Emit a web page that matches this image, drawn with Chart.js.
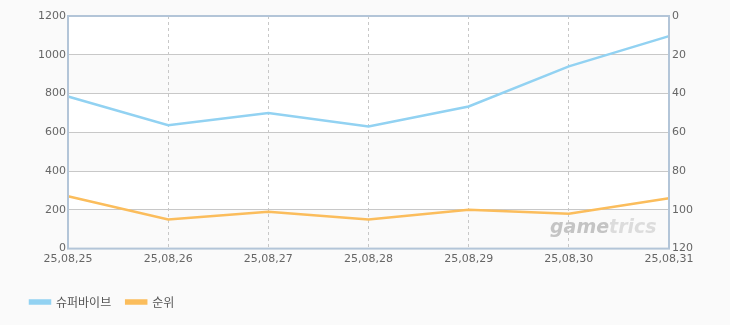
<!DOCTYPE html>
<html>
<head>
<meta charset="utf-8">
<script src="https://cdn.jsdelivr.net/npm/chart.js@4/dist/chart.umd.min.js"></script>
<style>
	html, body { margin: 0; padding: 0; background: #fafafa; }
	#wrap { width: 730px; height: 325px; }
</style>
</head>
<body>
<div id="wrap"><canvas id="trendChart" width="730" height="325"></canvas></div>
<script>
'use strict'

// values
const dates = ['25,08,25', '25,08,26', '25,08,27', '25,08,28', '25,08,29', '25,08,30', '25,08,31'];
const superviveValues = [785, 637, 699, 630, 733, 940, 1096];
const rankValues = [93, 105, 101, 105, 100, 102, 94];
const seriesNames = ['슈퍼바이브', '순위'];
const bandRanges = [[800, 1000], [400, 600], [0, 200]];

let plotDecor = {
	id: 'plotDecor',
	beforeDraw: (chart) => {
		let ctx = chart.ctx;
		let area = chart.chartArea;
		let y = chart.scales.y;
		ctx.save();
		ctx.fillStyle = '#fafafa';
		ctx.fillRect(0, 0, chart.width, chart.height);
		ctx.fillStyle = '#ffffff';
		ctx.fillRect(area.left, area.top, area.right - area.left, area.bottom - area.top);
		ctx.fillStyle = '#fafafa';
		bandRanges.forEach((r) => {
			let top = y.getPixelForValue(r[1]);
			let bottom = y.getPixelForValue(r[0]);
			ctx.fillRect(area.left, top, area.right - area.left, bottom - top);
		});
		ctx.restore();
	},
	beforeDatasetsDraw: (chart) => {
		let ctx = chart.ctx;
		let area = chart.chartArea;
		ctx.save();
		ctx.font = 'italic bold 19px "DejaVu Sans", sans-serif';
		ctx.textBaseline = 'alphabetic';
		ctx.fillStyle = '#c4c4c4';
		let x = area.right - 119;
		ctx.fillText('game', x, area.bottom - 16);
		let w = ctx.measureText('game').width;
		ctx.fillStyle = '#dcdcdc';
		ctx.fillText('trics', x + w, area.bottom - 16);
		ctx.restore();
	},
	afterDraw: (chart) => {
		let ctx = chart.ctx;
		let area = chart.chartArea;
		ctx.save();
		ctx.strokeStyle = '#b3c5d8';
		ctx.lineWidth = 2;
		ctx.strokeRect(area.left, area.top, area.right - area.left, area.bottom - area.top);
		ctx.restore();
	}
};

let fixWidth = (w) => (scale) => { scale.width = w; };
let plainTick = (value) => String(value);

let chart = new Chart(document.getElementById('trendChart'), {
	type: 'line',
	data: {
		labels: dates,
		datasets: [{
			label: seriesNames[0],
			data: superviveValues,
			borderColor: '#92d2f2',
			backgroundColor: '#92d2f2',
			borderWidth: 2.5,
			pointRadius: 0,
			tension: 0,
			yAxisID: 'y'
		}, {
			label: seriesNames[1],
			data: rankValues,
			borderColor: '#fbbd5c',
			backgroundColor: '#fbbd5c',
			borderWidth: 2.5,
			pointRadius: 0,
			tension: 0,
			yAxisID: 'y1'
		}]
	},
	options: {
		responsive: false,
		animation: false,
		layout: { padding: { top: 16, left: 15, right: 0, bottom: 7 } },
		plugins: {
			tooltip: { enabled: false },
			legend: {
				position: 'bottom',
				align: 'start',
				// empty title only pushes the items down
				title: { display: true, text: '', font: { size: 1 }, padding: { top: 10, bottom: 0 } },
				labels: {
					boxWidth: 20,
					boxHeight: 3,
					padding: 15,
					color: '#555',
					font: { family: '"Noto Sans CJK KR", sans-serif', size: 12 }
				}
			}
		},
		scales: {
			x: {
				offset: false,
				grid: { color: '#c8c8c8', drawTicks: false },
				border: { display: false, dash: [3, 3] },
				ticks: {
					color: '#666',
					padding: 4,
					maxRotation: 0,
					font: { family: '"DejaVu Sans", sans-serif', size: 11 }
				}
			},
			y: {
				position: 'left',
				min: 0,
				max: 1200,
				afterFit: fixWidth(53),
				grid: { color: '#c8c8c8', drawTicks: false },
				border: { display: false },
				ticks: {
					stepSize: 200,
					callback: plainTick,
					color: '#666',
					padding: 2,
					font: { family: '"DejaVu Sans", sans-serif', size: 11 }
				}
			},
			y1: {
				position: 'right',
				min: 0,
				max: 120,
				reverse: true,
				afterFit: fixWidth(61),
				grid: { display: false, drawTicks: false },
				border: { display: false },
				ticks: {
					stepSize: 20,
					callback: plainTick,
					color: '#666',
					padding: 3,
					font: { family: '"DejaVu Sans", sans-serif', size: 11 }
				}
			}
		}
	},
	plugins: [plotDecor]
});
</script>
</body>
</html>
